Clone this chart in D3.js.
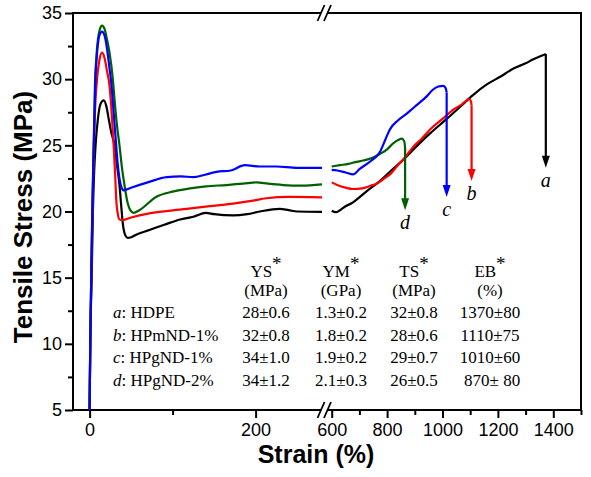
<!DOCTYPE html>
<html><head><meta charset="utf-8">
<script src="https://cdn.jsdelivr.net/npm/d3@7"></script>
<style>
html,body{margin:0;padding:0;background:#fff;}
svg{display:block;}
text{white-space:pre;}
</style></head>
<body><svg id="c" width="591" height="477"></svg>
<script>
// ---------- DATA ----------
const seriesNames = ["a","b","c","d"];
const seriesColors = ["#000000","#ff0000","#0000ff","#006000"];
// left segment [strain %, stress MPa]
const curveA_left = [[0,5],[0.8,10],[2.5,15],[4,20],[5.5,23],[7.2,25],[10,27],[13,28.1],[17,28.4],[20,28],[23,27],[26,26],[30,25],[33,23.5],[36,22],[38,20.5],[40,19.1],[43,18.2],[46,18.0],[50,18.05],[56,18.25],[72,18.6],[90,19.0],[109,19.4],[125,19.6],[140,19.9],[150,19.8],[173,19.7],[190,19.8],[205,20.0],[229,20.2],[240,20.1],[250,20.0],[280,19.97]];
const curveB_left = [[0,5],[0.8,10],[2,15],[3,18.5],[4,21.5],[5.2,25],[7,28.3],[9,30],[12,31.5],[15,32],[18,31.6],[21,30.6],[24,29.5],[26,28],[29,25],[31,22.5],[32,21],[34,19.8],[36,19.4],[40,19.35],[50,19.55],[72,19.86],[95,20.05],[117,20.2],[145,20.4],[173,20.6],[195,20.8],[213,21.0],[240,21.1],[280,21.07]];
const curveC_left = [[0,5],[0.8,10],[2,15],[3,19],[4,22],[5,25],[7,30],[9,32],[11,33.1],[13,33.5],[15,33.6],[18,33.3],[21,32.3],[24,30.8],[26,29.8],[29,27.5],[32,25],[34,23.5],[36,22.5],[38,21.9],[41,21.6],[50,21.8],[70,22.2],[93,22.6],[110,22.65],[125,22.6],[140,22.8],[153,23.0],[170,23.1],[187,23.5],[205,23.4],[225,23.4],[250,23.3],[280,23.3]];
const curveD_left = [[0,5],[0.8,10],[2,15],[3,19],[4,22.5],[5,25],[6.4,29.5],[8,31.5],[10,33],[12.5,33.8],[15,34.05],[18,33.8],[21,33],[24,32],[28,30],[30,28.5],[33,26.5],[36,25],[39,23.3],[42,22],[46,20.6],[49,20.1],[53,19.9],[60,20.1],[80,21.1],[100,21.5],[121,21.75],[140,21.9],[165,22.0],[185,22.1],[201,22.2],[215,22.1],[233,22.0],[255,21.95],[280,22.05]];
// right segment
const curveA_right = [[600,20.06],[615,19.95],[630,20.1],[650,20.4],[670,20.6],[690,20.9],[730,21.6],[774,22.3],[815,23.1],[858,23.9],[905,24.9],[955,25.9],[1010,26.9],[1063,27.9],[1110,28.8],[1160,29.6],[1210,30.2],[1256,30.8],[1300,31.2],[1328,31.5],[1355,31.75],[1373,31.9]];
const curveB_right = [[600,22.2],[620,22.0],[650,21.8],[678,21.7],[710,21.75],[740,21.95],[762,22.1],[790,22.5],[815,22.9],[835,23.4],[865,24.1],[895,24.9],[925,25.5],[955,26.2],[1000,27.0],[1039,27.7],[1070,28.1],[1097,28.5],[1103,28.3],[1105,28.0]];
const curveC_right = [[600,23.15],[620,23.1],[650,22.95],[678,22.8],[700,23.2],[740,23.8],[774,24.5],[795,25.5],[810,26.2],[840,26.9],[871,27.4],[910,28.1],[943,28.7],[965,29.2],[985,29.45],[1003,29.5],[1012,29.3],[1015,29.0]];
const curveD_right = [[600,23.4],[630,23.5],[660,23.6],[690,23.75],[714,23.85],[740,24.0],[774,24.35],[800,24.7],[822,25.15],[840,25.4],[853,25.5],[862,25.3],[865,24.8]];
const arrowTipStress = [23.3, 22.3, 21.1, 20.1];

const yTicks = [5,10,15,20,25,30,35];
const yMinor = [7.5,12.5,17.5,22.5,27.5,32.5];
const xTicksLeft = [0,200];
const xMinorLeft = [100];
const xTicksRight = [600,800,1000,1200,1400];
const xMinorRight = [700,900,1100,1300,1500];

const tableHeaders = ["YS","YM","TS","EB"];
const tableUnits = ["(MPa)","(GPa)","(MPa)","(%)"];
const sampleNames = ["HDPE","HPmND-1%","HPgND-1%","HPgND-2%"];
const ysVals = ["28±0.6","32±0.8","34±1.0","34±1.2"];
const ymVals = ["1.3±0.2","1.8±0.2","1.9±0.2","2.1±0.3"];
const tsVals = ["32±0.8","28±0.6","29±0.7","26±0.5"];
const ebVals = ["1370±80","1110±75","1010±60"," 870± 80"];

// ---------- CHART ----------
const svg = d3.select("#c");
const L = 73, R = 581, T = 13, B = 410;
const brkL = 322, brkR = 331.7;
const xL = d3.scaleLinear().domain([-20,280]).range([L, brkL]);
const xR = d3.scaleLinear().domain([600,1500]).range([brkR, R]);
const y = d3.scaleLinear().domain([5,35]).range([B, T]);

const sans = "'Liberation Sans', Arial, sans-serif";
const serif = "'Liberation Serif', 'Times New Roman', serif";

// axes ticks
function styleAxis(g){
  g.select(".domain").remove();
  g.selectAll(".tick line").attr("stroke","#000").attr("stroke-width",2);
  g.selectAll(".tick text").attr("font-family",sans).attr("font-size",18).attr("fill","#000");
}
svg.append("g").attr("transform",`translate(${L},0)`)
  .call(d3.axisLeft(y).tickValues(yTicks).tickSize(8).tickPadding(3).tickFormat(d3.format("d"))).call(styleAxis);
svg.append("g").attr("transform",`translate(${L},0)`)
  .call(d3.axisLeft(y).tickValues(yMinor).tickSize(5).tickFormat("")).call(styleAxis);
svg.append("g").attr("transform",`translate(0,${B})`)
  .call(d3.axisBottom(xL).tickValues(xTicksLeft).tickSize(8).tickPadding(5).tickFormat(d3.format("d"))).call(styleAxis);
svg.append("g").attr("transform",`translate(0,${B})`)
  .call(d3.axisBottom(xL).tickValues(xMinorLeft).tickSize(5).tickFormat("")).call(styleAxis);
svg.append("g").attr("transform",`translate(0,${B})`)
  .call(d3.axisBottom(xR).tickValues(xTicksRight).tickSize(8).tickPadding(5).tickFormat(d3.format("d"))).call(styleAxis);
svg.append("g").attr("transform",`translate(0,${B})`)
  .call(d3.axisBottom(xR).tickValues(xMinorRight).tickSize(5).tickFormat("")).call(styleAxis);

// frame with breaks
const s1 = 321, s2 = 327.5;
const frame = svg.append("g").attr("stroke","#000").attr("stroke-width",2).attr("fill","none");
frame.append("line").attr("x1",L).attr("x2",L).attr("y1",T-1).attr("y2",B+1);
frame.append("line").attr("x1",R).attr("x2",R).attr("y1",T-1).attr("y2",B+1);
[T,B].forEach(yy=>{
  frame.append("line").attr("x1",L).attr("x2",s1).attr("y1",yy).attr("y2",yy);
  frame.append("line").attr("x1",s2).attr("x2",R).attr("y1",yy).attr("y2",yy);
  [s1,s2].forEach(sx=>{
    frame.append("line").attr("x1",sx-3.5).attr("y1",yy+8).attr("x2",sx+3.5).attr("y2",yy-8).attr("stroke-width",1.8);
  });
});

// curves
const lineL = d3.line().x(d=>xL(d[0])).y(d=>y(d[1])).curve(d3.curveMonotoneX);
const lineR = d3.line().x(d=>xR(d[0])).y(d=>y(d[1])).curve(d3.curveMonotoneX);
const lefts = [curveA_left,curveB_left,curveC_left,curveD_left];
const rights = [curveA_right,curveB_right,curveC_right,curveD_right];
const order = [0,1,3,2];
order.forEach(i=>{
  svg.append("path").attr("d",lineL(lefts[i])).attr("fill","none").attr("stroke",seriesColors[i]).attr("stroke-width",2.2).attr("stroke-linejoin","round");
});
order.forEach(i=>{
  svg.append("path").attr("d",lineR(rights[i])).attr("fill","none").attr("stroke",seriesColors[i]).attr("stroke-width",2.2).attr("stroke-linejoin","round");
});
// arrows + labels
seriesNames.forEach((nm,i)=>{
  const last = rights[i][rights[i].length-1];
  const ax = xR(last[0]), ay0 = y(last[1]), ay1 = y(arrowTipStress[i]);
  svg.append("line").attr("x1",ax).attr("x2",ax).attr("y1",ay0).attr("y2",ay1-8)
    .attr("stroke",seriesColors[i]).attr("stroke-width",2.2);
  svg.append("path").attr("d",`M${ax},${ay1} L${ax-4},${ay1-12} L${ax+4},${ay1-12} Z`).attr("fill",seriesColors[i]);
  svg.append("text").attr("x",ax).attr("y",ay1+19).attr("text-anchor","middle")
    .attr("font-family",serif).attr("font-style","italic").attr("font-size",20).attr("fill","#000").text(nm);
});

// axis titles
svg.append("text").attr("x",316).attr("y",463).attr("text-anchor","middle")
  .attr("font-family",sans).attr("font-weight","bold").attr("font-size",25).text("Strain (%)");
svg.append("text").attr("transform","translate(32,217) rotate(-90)").attr("text-anchor","middle")
  .attr("font-family",sans).attr("font-weight","bold").attr("font-size",26).text("Tensile Stress (MPa)");

// table
const colX = [266, 341, 414, 490];
const tg = svg.append("g").attr("font-family",serif).attr("font-size",17).attr("fill","#000");
tableHeaders.forEach((h,j)=>{
  const t = tg.append("text").attr("x",colX[j]).attr("y",276.5).attr("text-anchor","middle");
  t.append("tspan").text(h);
  t.append("tspan").attr("dy",-7).attr("font-size",19).text("*");
  tg.append("text").attr("x",colX[j]).attr("y",295.5).attr("text-anchor","middle").text(tableUnits[j]);
});
const rowY = [318, 340.5, 363, 385.5];
const cols = [ysVals, ymVals, tsVals, ebVals];
sampleNames.forEach((nm,i)=>{
  const t = tg.append("text").attr("x",113).attr("y",rowY[i]);
  t.append("tspan").attr("font-style","italic").text(seriesNames[i]);
  t.append("tspan").text(": " + nm);
  cols.forEach((c,j)=>{
    tg.append("text").attr("x",colX[j]).attr("y",rowY[i]).attr("text-anchor","middle").text(c[i]);
  });
});
</script></body></html>
